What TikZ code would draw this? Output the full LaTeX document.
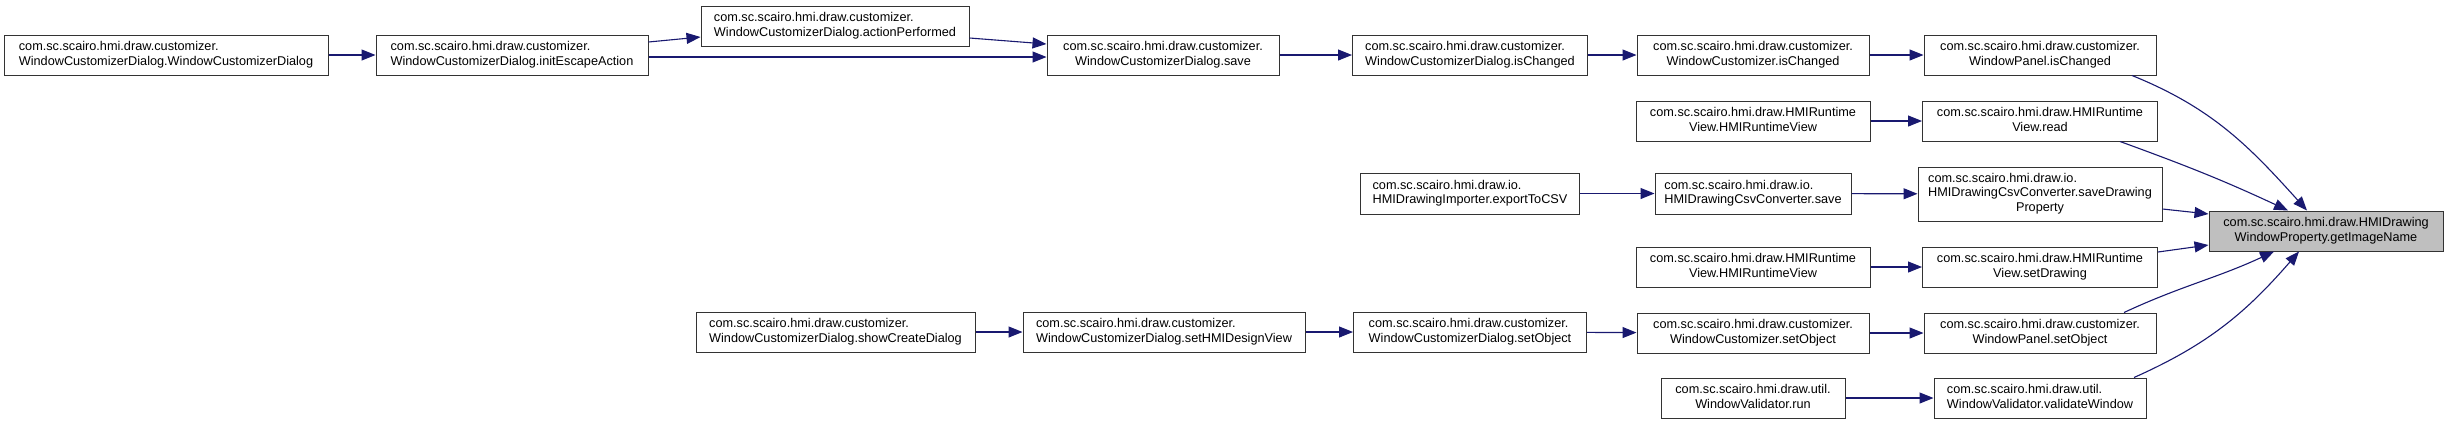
\documentclass[tikz,border=0pt]{standalone}
\usepackage{fontspec}
\setmainfont{Liberation Sans}
\usetikzlibrary{arrows.meta}
\definecolor{edgeblue}{HTML}{191970}
\definecolor{focusgrey}{HTML}{BFBFBF}
\newcommand{\calllabel}[2]{\begin{tabular}{@{}l@{}}#1\\\multicolumn{1}{@{}c@{}}{#2}\end{tabular}}
\begin{document}
\begin{tikzpicture}[x=1pt,y=1pt,
    fn/.style={draw=black!80, line width=1pt, fill=white, minimum height=40pt, inner sep=0pt,
      font=\fontsize{12.7}{14.5}\selectfont},
    focus/.style={fn, fill=focusgrey},
    call/.style={draw=edgeblue, line width=1.1pt, -{Triangle[length=14pt,width=11pt]}}]
  \path[fill=white, use as bounding box] (0,0) rectangle (2448,-424);
  \node[fn, minimum width=324pt] (dlgctor) at (166,-55) {\calllabel{com.sc.scairo.hmi.draw.customizer.}{WindowCustomizerDialog.WindowCustomizerDialog}};
  \node[fn, minimum width=272pt] (initesc) at (512,-55) {\calllabel{com.sc.scairo.hmi.draw.customizer.}{WindowCustomizerDialog.initEscapeAction}};
  \node[fn, minimum width=268pt] (actperf) at (835,-26) {\calllabel{com.sc.scairo.hmi.draw.customizer.}{WindowCustomizerDialog.actionPerformed}};
  \node[fn, minimum width=232pt] (dlgsave) at (1163,-55) {\calllabel{com.sc.scairo.hmi.draw.customizer.}{WindowCustomizerDialog.save}};
  \node[fn, minimum width=235pt] (dlgchg) at (1470,-55) {\calllabel{com.sc.scairo.hmi.draw.customizer.}{WindowCustomizerDialog.isChanged}};
  \node[fn, minimum width=232pt] (custchg) at (1753,-55) {\calllabel{com.sc.scairo.hmi.draw.customizer.}{WindowCustomizer.isChanged}};
  \node[fn, minimum width=232pt] (panelchg) at (2040,-55) {\calllabel{com.sc.scairo.hmi.draw.customizer.}{WindowPanel.isChanged}};
  \node[fn, minimum width=234pt] (rtviewa) at (1753,-121) {\calllabel{com.sc.scairo.hmi.draw.HMIRuntime}{View.HMIRuntimeView}};
  \node[fn, minimum width=235pt] (rtread) at (2040,-121) {\calllabel{com.sc.scairo.hmi.draw.HMIRuntime}{View.read}};
  \node[fn, minimum width=219pt, minimum height=41pt] (exportcsv) at (1470,-193.5) {\calllabel{com.sc.scairo.hmi.draw.io.}{HMIDrawingImporter.exportToCSV}};
  \node[fn, minimum width=196pt, minimum height=41pt] (csvsave) at (1753,-193.5) {\calllabel{com.sc.scairo.hmi.draw.io.}{HMIDrawingCsvConverter.save}};
  \node[fn, minimum width=244pt, minimum height=54pt] (saveprop) at (2040,-194) {\begin{tabular}{@{}l@{}}com.sc.scairo.hmi.draw.io.\\HMIDrawingCsvConverter.saveDrawing\\\multicolumn{1}{@{}c@{}}{Property}\end{tabular}};
  \node[fn, minimum width=234pt] (rtviewb) at (1753,-267) {\calllabel{com.sc.scairo.hmi.draw.HMIRuntime}{View.HMIRuntimeView}};
  \node[fn, minimum width=235pt] (rtsetdrw) at (2040,-267) {\calllabel{com.sc.scairo.hmi.draw.HMIRuntime}{View.setDrawing}};
  \node[fn, minimum width=279pt] (showcreate) at (835.5,-332) {\calllabel{com.sc.scairo.hmi.draw.customizer.}{WindowCustomizerDialog.showCreateDialog}};
  \node[fn, minimum width=282pt] (setdesign) at (1164,-332) {\calllabel{com.sc.scairo.hmi.draw.customizer.}{WindowCustomizerDialog.setHMIDesignView}};
  \node[fn, minimum width=233pt] (dlgsetobj) at (1470,-332) {\calllabel{com.sc.scairo.hmi.draw.customizer.}{WindowCustomizerDialog.setObject}};
  \node[fn, minimum width=232pt] (custsetobj) at (1753,-333) {\calllabel{com.sc.scairo.hmi.draw.customizer.}{WindowCustomizer.setObject}};
  \node[fn, minimum width=232pt] (panelsetobj) at (2040,-333) {\calllabel{com.sc.scairo.hmi.draw.customizer.}{WindowPanel.setObject}};
  \node[fn, minimum width=184pt] (valrun) at (1753,-398) {\calllabel{com.sc.scairo.hmi.draw.util.}{WindowValidator.run}};
  \node[fn, minimum width=212pt] (valwin) at (2040,-398) {\calllabel{com.sc.scairo.hmi.draw.util.}{WindowValidator.validateWindow}};
  \node[focus, minimum width=234pt] (imgname) at (2326,-231) {\calllabel{com.sc.scairo.hmi.draw.HMIDrawing}{WindowProperty.getImageName}};
  \draw[call] (dlgctor) -- (initesc);
  \draw[call] ([yshift=13pt]initesc.east) -- ([yshift=-11pt]actperf.west);
  \draw[call] ([yshift=-2pt]initesc.east) -- ([yshift=-2pt]dlgsave.west);
  \draw[call] ([yshift=-12pt]actperf.east) -- ([yshift=11pt]dlgsave.west);
  \draw[call] (dlgsave) -- (dlgchg);
  \draw[call] (dlgchg) -- (custchg);
  \draw[call] (custchg) -- (panelchg);
  \draw[call] (rtviewa) -- (rtread);
  \draw[call] (exportcsv) -- (csvsave);
  \draw[call] (csvsave) -- (saveprop);
  \draw[call] (rtviewb) -- (rtsetdrw);
  \draw[call] (showcreate) -- (setdesign);
  \draw[call] (setdesign) -- (dlgsetobj);
  \draw[call] (dlgsetobj) -- (custsetobj);
  \draw[call] (custsetobj) -- (panelsetobj);
  \draw[call] (valrun) -- (valwin);
  \draw[call] ([xshift=92pt]panelchg.south) to[out=-22, in=132] ([xshift=-19pt]imgname.north);
  \draw[call] ([xshift=80pt]rtread.south) to[out=-20, in=155] ([xshift=-38pt]imgname.north);
  \draw[call] ([yshift=-15pt]saveprop.east) -- ([yshift=17pt]imgname.west);
  \draw[call] ([yshift=15pt]rtsetdrw.east) -- ([yshift=-14pt]imgname.west);
  \draw[call] ([xshift=84pt]panelsetobj.north) to[out=25, in=-155] ([xshift=-52pt]imgname.south);
  \draw[call] ([xshift=94pt]valwin.north) to[out=24, in=-131] ([xshift=-27pt]imgname.south);
\end{tikzpicture}
\end{document}
